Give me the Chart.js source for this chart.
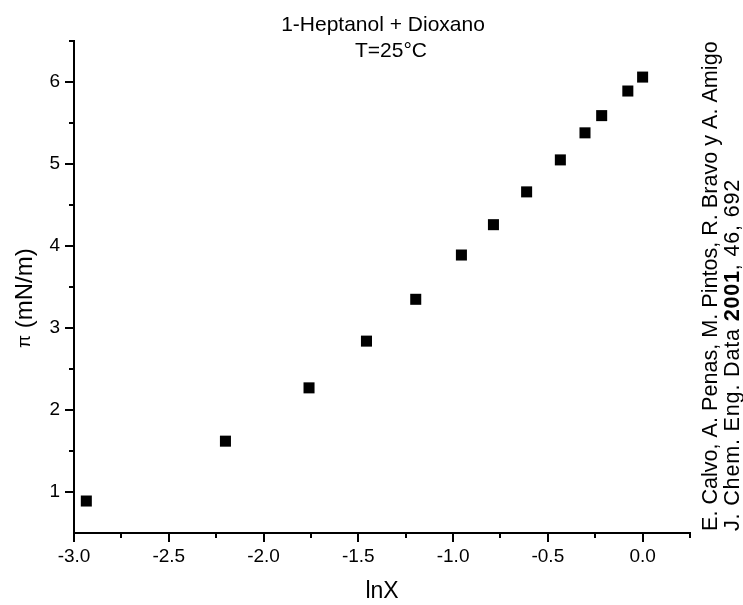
<!DOCTYPE html>
<html>
<head>
<meta charset="utf-8">
<script src="https://cdn.jsdelivr.net/npm/chart.js@4/dist/chart.umd.min.js"></script>
<style>
  html, body { margin: 0; padding: 0; background: #fff; }
  #wrap { width: 743px; height: 605px; }
</style>
</head>
<body>
<div id="wrap"><canvas id="c"></canvas></div>
<script>
// data
const lnX = [-2.935, -2.201, -1.760, -1.457, -1.197, -0.956, -0.787, -0.612, -0.434, -0.304, -0.216, -0.078, 0.0];
const piVals = [0.89, 1.62, 2.27, 2.84, 3.35, 3.89, 4.26, 4.66, 5.05, 5.38, 5.59, 5.89, 6.06];

const xTicks = [-3.0, -2.5, -2.0, -1.5, -1.0, -0.5, 0.0];
const xMinor = [-2.75, -2.25, -1.75, -1.25, -0.75, -0.25, 0.25];
const yTicks = [1, 2, 3, 4, 5, 6];
const yMinor = [1.5, 2.5, 3.5, 4.5, 5.5, 6.5];

const titleLines = ['1-Heptanol + Dioxano', 'T=25\u00B0C'];
const yTitle = ['\u03C0', ' (mN/m)'];
const refLine1 = 'E. Calvo, A. Penas, M. Pintos, R. Bravo y A. Amigo';
const refLine2 = [['J. Chem. Eng. Data ', false], ['2001', true], [', 46, 692', false]];

const FONT = '"Liberation Sans", Arial, sans-serif';

const points = lnX.map((x, i) => ({ x: x, y: piVals[i] }));

// minor ticks, titles and side reference
const extras = {
  id: 'extras',
  afterDraw(chart) {
    const ctx = chart.ctx;
    const xs = chart.scales.x, ys = chart.scales.y;
    ctx.save();
    ctx.strokeStyle = '#000';
    ctx.lineWidth = 2;
    ctx.beginPath();
    xMinor.forEach(v => {
      const px = Math.round(xs.getPixelForValue(v));
      ctx.moveTo(px, ys.bottom);
      ctx.lineTo(px, ys.bottom + 5);
    });
    yMinor.forEach(v => {
      const py = Math.round(ys.getPixelForValue(v));
      ctx.moveTo(xs.left, py);
      ctx.lineTo(xs.left - 5, py);
    });
    ctx.stroke();

    ctx.fillStyle = '#000';
    ctx.textBaseline = 'middle';

    // title
    ctx.font = '21px ' + FONT;
    ctx.textAlign = 'center';
    ctx.fillText(titleLines[0], 383, 25);
    ctx.fillText(titleLines[1], 391, 51);

    // y axis title, small pi like the symbol font
    ctx.save();
    ctx.translate(25, 348);
    ctx.rotate(-Math.PI / 2);
    ctx.textAlign = 'left';
    ctx.font = '19px ' + FONT;
    ctx.fillText(yTitle[0], 0, 0);
    let w = ctx.measureText(yTitle[0]).width;
    ctx.font = '24px ' + FONT;
    ctx.fillText(yTitle[1], w, 0);
    ctx.restore();

    // rotated reference text on the right
    ctx.save();
    ctx.translate(711, 531);
    ctx.rotate(-Math.PI / 2);
    ctx.textAlign = 'left';
    ctx.font = '21.6px ' + FONT;
    ctx.fillText(refLine1, 0, 0);
    ctx.restore();

    ctx.save();
    ctx.translate(733, 531);
    ctx.rotate(-Math.PI / 2);
    ctx.textAlign = 'left';
    ctx.letterSpacing = '0.8px';
    let off = 0;
    refLine2.forEach(([txt, bold]) => {
      ctx.font = (bold ? 'bold ' : '') + '21.6px ' + FONT;
      ctx.fillText(txt, off, 0);
      off += ctx.measureText(txt).width;
    });
    ctx.restore();
    ctx.restore();
  }
};

new Chart(document.getElementById('c'), {
  type: 'scatter',
  data: {
    datasets: [{
      label: 'pi',
      data: points,
      pointStyle: 'rect',
      pointRadius: 7.8,
      pointHoverRadius: 7.8,
      backgroundColor: '#000',
      borderColor: '#000',
      borderWidth: 0
    }]
  },
  options: {
    responsive: true,
    maintainAspectRatio: false,
    animation: false,
    events: [],
    layout: { padding: { left: 0, top: 41, right: 53, bottom: 0 } },
    plugins: {
      legend: { display: false },
      tooltip: { enabled: false }
    },
    scales: {
      x: {
        type: 'linear',
        min: -3.0,
        max: 0.25,
        afterBuildTicks: s => { s.ticks = xTicks.map(v => ({ value: v })); },
        afterFit: s => { s.height = 72; },
        border: { color: '#000', width: 2 },
        grid: { drawOnChartArea: false, drawTicks: true, tickLength: 9, color: '#000', lineWidth: 2 },
        ticks: {
          color: '#000',
          padding: 3,
          maxRotation: 0,
          font: { family: FONT, size: 19 },
          callback: v => v.toFixed(1)
        },
        title: {
          display: true,
          text: 'lnX',
          color: '#000',
          font: { family: FONT, size: 23 },
          padding: { top: 0, bottom: 0 }
        }
      },
      y: {
        type: 'linear',
        min: 0.5,
        max: 6.5,
        afterBuildTicks: s => { s.ticks = yTicks.map(v => ({ value: v })); },
        afterFit: s => { s.width = 74; },
        border: { color: '#000', width: 2 },
        grid: { drawOnChartArea: false, drawTicks: true, tickLength: 9, color: '#000', lineWidth: 2 },
        ticks: {
          color: '#000',
          padding: 5,
          font: { family: FONT, size: 19 },
          callback: v => String(v)
        },
        title: { display: false }
      }
    }
  },
  plugins: [extras]
});
</script>
</body>
</html>
